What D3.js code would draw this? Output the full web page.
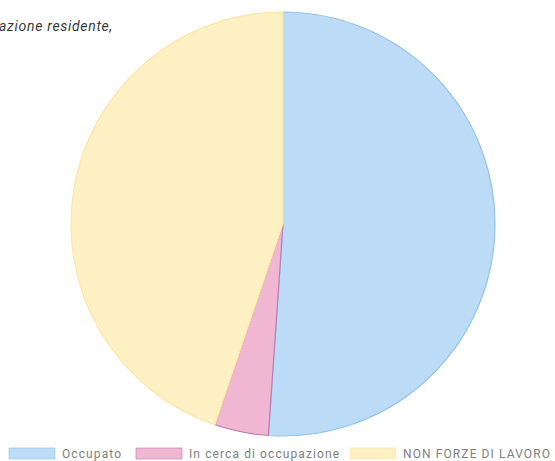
<!DOCTYPE html>
<html>
<head>
<meta charset="utf-8">
<script src="https://cdn.jsdelivr.net/npm/d3@7"></script>
<style>
  body { margin: 0; background: #fff; }
  svg { display: block; }
</style>
</head>
<body>
<div id="piechart"></div>
<script>
var labels = ["Occupato", "In cerca di occupazione", "NON FORZE DI LAVORO"];
var values = [51.1, 4.1, 44.8];
var fills = ["#bbdbf6", "#f0b6d2", "#fdf1c4"];
var strokes = ["#95c3ec", "#b77fb4", "#fbe6a6"];

var width = 555;
var height = 461;

var svg = d3.select('#piechart')
    .append('svg')
        .attr('width', width)
        .attr('height', height)
        .style('background', '#ffffff');

//title (cut at the left edge)
svg.append("text")
    .attr("x", -1)
    .attr("y", 31)
    .style("font-family", "Roboto")
    .style("font-style", "italic")
    .style("font-size", "14px")
    .style("letter-spacing", "0.7px")
    .attr("fill", "#3a3a3a")
    .text("azione residente,");

var data = labels.map(function(l, i) { return {label: l, value: values[i], i: i}; });

var pie = d3.pie()
    .sort(null)
    .value(function(d) { return d.value; });

var arc = d3.arc()
    .innerRadius(0)
    .outerRadius(212);

var g = svg.append('g')
    .attr('transform', 'translate(283,224)');

g.selectAll("path")
    .data(pie(data))
    .enter()
    .append("path")
    .attr("d", arc)
    .attr("fill", function(d) { return fills[d.data.i]; })
    .attr("stroke", function(d) { return strokes[d.data.i]; })
    .attr("stroke-width", 1.2);

// legend
var legendX = [9, 136, 350];
var legend = svg.selectAll(".legend")
    .data(data)
    .enter()
    .append("g")
    .attr("class", "legend")
    .attr("transform", function(d) { return "translate(" + legendX[d.i] + ",448)"; });

legend.append("rect")
    .attr("width", 46)
    .attr("height", 11)
    .attr("fill", function(d) { return fills[d.i]; })
    .attr("stroke", function(d) { return strokes[d.i]; })
    .attr("stroke-width", 0.6);

legend.append("text")
    .attr("x", 53)
    .attr("y", 10)
    .style("font-family", "Roboto")
    .style("font-size", "12px")
    .style("letter-spacing", "1.1px")
    .attr("fill", "#808080")
    .text(function(d) { return d.label; });
</script>
</body>
</html>
